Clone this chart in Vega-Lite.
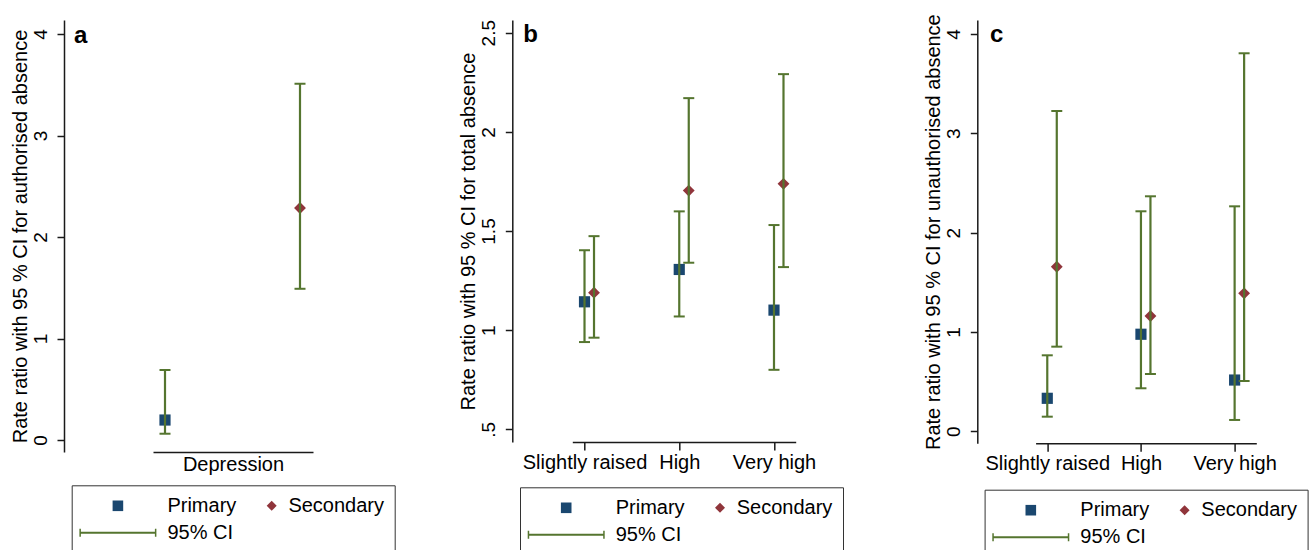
{
  "$schema": "https://vega.github.io/schema/vega-lite/v6.json",
  "background": "white",
  "padding": {"left": 10, "top": 13, "right": 0, "bottom": 0},
  "config": {
    "font": "Liberation Sans",
    "view": {"stroke": null},
    "axis": {
      "domainColor": "#1a1a1a", "tickColor": "#1a1a1a", "domainWidth": 1.5, "tickWidth": 1.5,
      "labelColor": "black", "titleColor": "black", "labelFont": "Liberation Sans", "titleFont": "Liberation Sans",
      "labelFontSize": 20, "titleFontSize": 20, "titleFontWeight": "normal", "grid": false
    },
    "legend": {
      "labelFont": "Liberation Sans", "labelFontSize": 20, "labelColor": "black",
      "titleFontSize": 1, "titleOrient": "left", "titlePadding": 33.5, "titleColor": "white"
    },
    "title": {
      "font": "Liberation Sans", "fontSize": 24, "fontWeight": "bold", "color": "black",
      "anchor": "start", "frame": "group", "offset": 0, "baseline": "alphabetic"
    }
  },
  "datasets": {
    "a": [
      {"cat": "Depression", "group": "Primary", "est": 0.197, "lo": 0.062, "hi": 0.69},
      {"cat": "Depression", "group": "Secondary", "est": 2.286, "lo": 1.49, "hi": 3.51}
    ],
    "b": [
      {"cat": "Slightly raised", "group": "Primary", "est": 1.143, "lo": 0.94, "hi": 1.403},
      {"cat": "Slightly raised", "group": "Secondary", "est": 1.189, "lo": 0.962, "hi": 1.474},
      {"cat": "High", "group": "Primary", "est": 1.306, "lo": 1.069, "hi": 1.599},
      {"cat": "High", "group": "Secondary", "est": 1.704, "lo": 1.34, "hi": 2.17},
      {"cat": "Very high", "group": "Primary", "est": 1.101, "lo": 0.8, "hi": 1.53},
      {"cat": "Very high", "group": "Secondary", "est": 1.738, "lo": 1.318, "hi": 2.291}
    ],
    "c": [
      {"cat": "Slightly raised", "group": "Primary", "est": 0.332, "lo": 0.147, "hi": 0.765},
      {"cat": "Slightly raised", "group": "Secondary", "est": 1.657, "lo": 0.852, "hi": 3.225},
      {"cat": "High", "group": "Primary", "est": 0.977, "lo": 0.433, "hi": 2.215},
      {"cat": "High", "group": "Secondary", "est": 1.161, "lo": 0.577, "hi": 2.366},
      {"cat": "Very high", "group": "Primary", "est": 0.516, "lo": 0.114, "hi": 2.265},
      {"cat": "Very high", "group": "Secondary", "est": 1.389, "lo": 0.506, "hi": 3.806}
    ]
  },
  "bounds": "flush",
  "spacing": 259.3,
  "resolve": {"scale": {"color": "independent", "shape": "independent"}, "legend": {"color": "independent", "shape": "independent"}},
  "hconcat": [
    {
      "width": 160, "height": 432,
      "title": {"text": "a", "dx": -79, "dy": 32},
      "data": {"name": "a"},
      "layer": [
        {
          "transform": [{"filter": "datum.group === 'Primary'"}],
          "mark": {"type": "point", "shape": "square", "filled": true, "color": "#1a476f", "size": 125, "opacity": 1},
          "encoding": {
            "x": {"field": "group", "type": "nominal", "scale": {"type": "point", "domain": ["Primary", "Secondary"], "padding": 0.0926, "align": 0.48}, "axis": {"title": "Depression", "labels": false, "ticks": false, "tickSize": 0, "titlePadding": 2}},
            "y": {"field": "est", "type": "quantitative", "scale": {"domain": [-0.118, 4.138], "nice": false, "zero": false}, "axis": {"title": "Rate ratio with 95 % CI for authorised absence", "values": [0, 1, 2, 3, 4], "offset": 89, "tickSize": 7, "labelAngle": -90, "labelAlign": "center", "labelBaseline": "alphabetic", "labelPadding": 11, "labelFontSize": 19, "labelOverlap": false, "labelFlush": false, "titlePadding": 1}}
          }
        },
        {
          "transform": [{"filter": "datum.group === 'Secondary'"}],
          "mark": {"type": "point", "shape": "diamond", "filled": true, "color": "#90353b", "size": 140, "opacity": 1},
          "encoding": {
            "x": {"field": "group", "type": "nominal", "scale": {"type": "point", "domain": ["Primary", "Secondary"], "padding": 0.0926, "align": 0.48}, "axis": {"title": "Depression", "labels": false, "ticks": false, "tickSize": 0, "titlePadding": 2}},
            "y": {"field": "est", "type": "quantitative", "scale": {"domain": [-0.118, 4.138], "nice": false, "zero": false}, "axis": {"title": "Rate ratio with 95 % CI for authorised absence", "values": [0, 1, 2, 3, 4], "offset": 89, "tickSize": 7, "labelAngle": -90, "labelAlign": "center", "labelBaseline": "alphabetic", "labelPadding": 11, "labelFontSize": 19, "labelOverlap": false, "labelFlush": false, "titlePadding": 1}}
          }
        },
        {
          "mark": {"type": "point", "filled": true, "opacity": 0},
          "encoding": {
            "x": {"field": "group", "type": "nominal", "scale": {"type": "point", "domain": ["Primary", "Secondary"], "padding": 0.0926, "align": 0.48}, "axis": {"title": "Depression", "labels": false, "ticks": false, "tickSize": 0, "titlePadding": 2}},
            "y": {"field": "est", "type": "quantitative", "scale": {"domain": [-0.118, 4.138], "nice": false, "zero": false}, "axis": {"title": "Rate ratio with 95 % CI for authorised absence", "values": [0, 1, 2, 3, 4], "offset": 89, "tickSize": 7, "labelAngle": -90, "labelAlign": "center", "labelBaseline": "alphabetic", "labelPadding": 11, "labelFontSize": 19, "labelOverlap": false, "labelFlush": false, "titlePadding": 1}},
            "color": {"field": "group", "type": "nominal", "scale": {"domain": ["Primary", "Secondary", "95% CI"], "range": ["#1a476f", "#90353b", "#55752f"]},
              "legend": {"title": " ", "orient": "none", "legendX": -81.3, "legendY": 465.3, "direction": "horizontal", "columns": 2, "symbolSize": 400, "symbolStrokeWidth": 0, "symbolOpacity": 1, "labelOffset": 31.7, "columnPadding": 0, "rowPadding": 7, "padding": 10.5, "strokeColor": "#333333"}},
            "shape": {"field": "group", "type": "nominal", "scale": {"domain": ["Primary", "Secondary", "95% CI"], "range": ["M-1.31,-0.53H-0.25V0.53H-1.31Z", "M2,0L2.5,-0.5L3,0L2.5,0.5Z", "M-4.63,-0.1H3.07V0.1H-4.63ZM-4.63,-0.4H-4.48V0.4H-4.63ZM2.92,-0.4H3.07V0.4H2.92Z"]},
              "legend": {"title": " ", "orient": "none", "legendX": -81.3, "legendY": 465.3, "direction": "horizontal", "columns": 2, "symbolSize": 400, "symbolStrokeWidth": 0, "symbolOpacity": 1, "labelOffset": 31.7, "columnPadding": 0, "rowPadding": 7, "padding": 10.5, "strokeColor": "#333333"}}
          }
        },
        {
          "mark": {"type": "rule", "color": "#55752f", "strokeWidth": 2.2},
          "encoding": {
            "x": {"field": "group", "type": "nominal", "scale": {"type": "point", "domain": ["Primary", "Secondary"], "padding": 0.0926, "align": 0.48}, "axis": {"title": "Depression", "labels": false, "ticks": false, "tickSize": 0, "titlePadding": 2}},
            "y": {"field": "lo", "type": "quantitative", "scale": {"domain": [-0.118, 4.138], "nice": false, "zero": false}, "axis": {"title": "Rate ratio with 95 % CI for authorised absence", "values": [0, 1, 2, 3, 4], "offset": 89, "tickSize": 7, "labelAngle": -90, "labelAlign": "center", "labelBaseline": "alphabetic", "labelPadding": 11, "labelFontSize": 19, "labelOverlap": false, "labelFlush": false, "titlePadding": 1}},
            "y2": {"field": "hi"}
          }
        },
        {
          "mark": {"type": "tick", "orient": "horizontal", "color": "#55752f", "size": 11, "thickness": 2, "opacity": 1},
          "encoding": {
            "x": {"field": "group", "type": "nominal", "scale": {"type": "point", "domain": ["Primary", "Secondary"], "padding": 0.0926, "align": 0.48}, "axis": {"title": "Depression", "labels": false, "ticks": false, "tickSize": 0, "titlePadding": 2}},
            "y": {"field": "lo", "type": "quantitative", "scale": {"domain": [-0.118, 4.138], "nice": false, "zero": false}, "axis": {"title": "Rate ratio with 95 % CI for authorised absence", "values": [0, 1, 2, 3, 4], "offset": 89, "tickSize": 7, "labelAngle": -90, "labelAlign": "center", "labelBaseline": "alphabetic", "labelPadding": 11, "labelFontSize": 19, "labelOverlap": false, "labelFlush": false, "titlePadding": 1}}
          }
        },
        {
          "mark": {"type": "tick", "orient": "horizontal", "color": "#55752f", "size": 11, "thickness": 2, "opacity": 1},
          "encoding": {
            "x": {"field": "group", "type": "nominal", "scale": {"type": "point", "domain": ["Primary", "Secondary"], "padding": 0.0926, "align": 0.48}, "axis": {"title": "Depression", "labels": false, "ticks": false, "tickSize": 0, "titlePadding": 2}},
            "y": {"field": "hi", "type": "quantitative", "scale": {"domain": [-0.118, 4.138], "nice": false, "zero": false}, "axis": {"title": "Rate ratio with 95 % CI for authorised absence", "values": [0, 1, 2, 3, 4], "offset": 89, "tickSize": 7, "labelAngle": -90, "labelAlign": "center", "labelBaseline": "alphabetic", "labelPadding": 11, "labelFontSize": 19, "labelOverlap": false, "labelFlush": false, "titlePadding": 1}}
          }
        }
      ]
    },
    {
      "bounds": "flush",
      "spacing": 239.3,
      "resolve": {"scale": {"color": "independent", "shape": "independent"}, "legend": {"color": "independent", "shape": "independent"}},
      "hconcat": [
        {
          "width": 223.4, "height": 422,
          "title": {"text": "b", "dx": -49, "dy": 32},
          "data": {"name": "b"},
          "layer": [
            {
              "transform": [{"filter": "datum.group === 'Primary'"}],
              "mark": {"type": "point", "shape": "square", "filled": true, "color": "#1a476f", "size": 125, "opacity": 1},
              "encoding": {
                "x": {"field": "cat", "type": "nominal", "scale": {"type": "point", "domain": ["Slightly raised", "High", "Very high"], "padding": 0.179, "align": 0.36}, "axis": {"title": null, "labelAngle": 0, "tickSize": 8, "labelPadding": 2, "labelOverlap": false, "labelBound": false, "labelFlush": false}},
                "xOffset": {"field": "group", "type": "nominal", "scale": {"type": "point", "domain": ["Primary", "Secondary"], "range": [0, 9.5], "padding": 0}},
                "y": {"field": "est", "type": "quantitative", "scale": {"domain": [0.436, 2.564], "nice": false, "zero": false}, "axis": {"title": "Rate ratio with 95 % CI for total absence", "values": [0.5, 1, 1.5, 2, 2.5], "labelExpr": "datum.value === 0.5 ? '.5' : toString(datum.value)", "offset": 60, "tickSize": 7, "labelAngle": -90, "labelAlign": "center", "labelBaseline": "alphabetic", "labelPadding": 11, "labelFontSize": 19, "labelOverlap": false, "labelFlush": false, "titlePadding": 1}}
              }
            },
            {
              "transform": [{"filter": "datum.group === 'Secondary'"}],
              "mark": {"type": "point", "shape": "diamond", "filled": true, "color": "#90353b", "size": 140, "opacity": 1},
              "encoding": {
                "x": {"field": "cat", "type": "nominal", "scale": {"type": "point", "domain": ["Slightly raised", "High", "Very high"], "padding": 0.179, "align": 0.36}, "axis": {"title": null, "labelAngle": 0, "tickSize": 8, "labelPadding": 2, "labelOverlap": false, "labelBound": false, "labelFlush": false}},
                "xOffset": {"field": "group", "type": "nominal", "scale": {"type": "point", "domain": ["Primary", "Secondary"], "range": [0, 9.5], "padding": 0}},
                "y": {"field": "est", "type": "quantitative", "scale": {"domain": [0.436, 2.564], "nice": false, "zero": false}, "axis": {"title": "Rate ratio with 95 % CI for total absence", "values": [0.5, 1, 1.5, 2, 2.5], "labelExpr": "datum.value === 0.5 ? '.5' : toString(datum.value)", "offset": 60, "tickSize": 7, "labelAngle": -90, "labelAlign": "center", "labelBaseline": "alphabetic", "labelPadding": 11, "labelFontSize": 19, "labelOverlap": false, "labelFlush": false, "titlePadding": 1}}
              }
            },
            {
              "mark": {"type": "point", "filled": true, "opacity": 0},
              "encoding": {
                "x": {"field": "cat", "type": "nominal", "scale": {"type": "point", "domain": ["Slightly raised", "High", "Very high"], "padding": 0.179, "align": 0.36}, "axis": {"title": null, "labelAngle": 0, "tickSize": 8, "labelPadding": 2, "labelOverlap": false, "labelBound": false, "labelFlush": false}},
                "xOffset": {"field": "group", "type": "nominal", "scale": {"type": "point", "domain": ["Primary", "Secondary"], "range": [0, 9.5], "padding": 0}},
                "y": {"field": "est", "type": "quantitative", "scale": {"domain": [0.436, 2.564], "nice": false, "zero": false}, "axis": {"title": "Rate ratio with 95 % CI for total absence", "values": [0.5, 1, 1.5, 2, 2.5], "labelExpr": "datum.value === 0.5 ? '.5' : toString(datum.value)", "offset": 60, "tickSize": 7, "labelAngle": -90, "labelAlign": "center", "labelBaseline": "alphabetic", "labelPadding": 11, "labelFontSize": 19, "labelOverlap": false, "labelFlush": false, "titlePadding": 1}},
                "color": {"field": "group", "type": "nominal", "scale": {"domain": ["Primary", "Secondary", "95% CI"], "range": ["#1a476f", "#90353b", "#55752f"]},
                  "legend": {"title": " ", "orient": "none", "legendX": -52.3, "legendY": 467.3, "direction": "horizontal", "columns": 2, "symbolSize": 400, "symbolStrokeWidth": 0, "symbolOpacity": 1, "labelOffset": 31.7, "columnPadding": 0, "rowPadding": 7, "padding": 10.5, "strokeColor": "#333333"}},
                "shape": {"field": "group", "type": "nominal", "scale": {"domain": ["Primary", "Secondary", "95% CI"], "range": ["M-1.31,-0.53H-0.25V0.53H-1.31Z", "M2,0L2.5,-0.5L3,0L2.5,0.5Z", "M-4.63,-0.1H3.07V0.1H-4.63ZM-4.63,-0.4H-4.48V0.4H-4.63ZM2.92,-0.4H3.07V0.4H2.92Z"]},
                  "legend": {"title": " ", "orient": "none", "legendX": -52.3, "legendY": 467.3, "direction": "horizontal", "columns": 2, "symbolSize": 400, "symbolStrokeWidth": 0, "symbolOpacity": 1, "labelOffset": 31.7, "columnPadding": 0, "rowPadding": 7, "padding": 10.5, "strokeColor": "#333333"}}
              }
            },
            {
              "mark": {"type": "rule", "color": "#55752f", "strokeWidth": 2.2},
              "encoding": {
                "x": {"field": "cat", "type": "nominal", "scale": {"type": "point", "domain": ["Slightly raised", "High", "Very high"], "padding": 0.179, "align": 0.36}, "axis": {"title": null, "labelAngle": 0, "tickSize": 8, "labelPadding": 2, "labelOverlap": false, "labelBound": false, "labelFlush": false}},
                "xOffset": {"field": "group", "type": "nominal", "scale": {"type": "point", "domain": ["Primary", "Secondary"], "range": [0, 9.5], "padding": 0}},
                "y": {"field": "lo", "type": "quantitative", "scale": {"domain": [0.436, 2.564], "nice": false, "zero": false}, "axis": {"title": "Rate ratio with 95 % CI for total absence", "values": [0.5, 1, 1.5, 2, 2.5], "labelExpr": "datum.value === 0.5 ? '.5' : toString(datum.value)", "offset": 60, "tickSize": 7, "labelAngle": -90, "labelAlign": "center", "labelBaseline": "alphabetic", "labelPadding": 11, "labelFontSize": 19, "labelOverlap": false, "labelFlush": false, "titlePadding": 1}},
                "y2": {"field": "hi"}
              }
            },
            {
              "mark": {"type": "tick", "orient": "horizontal", "color": "#55752f", "size": 11, "thickness": 2, "opacity": 1},
              "encoding": {
                "x": {"field": "cat", "type": "nominal", "scale": {"type": "point", "domain": ["Slightly raised", "High", "Very high"], "padding": 0.179, "align": 0.36}, "axis": {"title": null, "labelAngle": 0, "tickSize": 8, "labelPadding": 2, "labelOverlap": false, "labelBound": false, "labelFlush": false}},
                "xOffset": {"field": "group", "type": "nominal", "scale": {"type": "point", "domain": ["Primary", "Secondary"], "range": [0, 9.5], "padding": 0}},
                "y": {"field": "lo", "type": "quantitative", "scale": {"domain": [0.436, 2.564], "nice": false, "zero": false}, "axis": {"title": "Rate ratio with 95 % CI for total absence", "values": [0.5, 1, 1.5, 2, 2.5], "labelExpr": "datum.value === 0.5 ? '.5' : toString(datum.value)", "offset": 60, "tickSize": 7, "labelAngle": -90, "labelAlign": "center", "labelBaseline": "alphabetic", "labelPadding": 11, "labelFontSize": 19, "labelOverlap": false, "labelFlush": false, "titlePadding": 1}}
              }
            },
            {
              "mark": {"type": "tick", "orient": "horizontal", "color": "#55752f", "size": 11, "thickness": 2, "opacity": 1},
              "encoding": {
                "x": {"field": "cat", "type": "nominal", "scale": {"type": "point", "domain": ["Slightly raised", "High", "Very high"], "padding": 0.179, "align": 0.36}, "axis": {"title": null, "labelAngle": 0, "tickSize": 8, "labelPadding": 2, "labelOverlap": false, "labelBound": false, "labelFlush": false}},
                "xOffset": {"field": "group", "type": "nominal", "scale": {"type": "point", "domain": ["Primary", "Secondary"], "range": [0, 9.5], "padding": 0}},
                "y": {"field": "hi", "type": "quantitative", "scale": {"domain": [0.436, 2.564], "nice": false, "zero": false}, "axis": {"title": "Rate ratio with 95 % CI for total absence", "values": [0.5, 1, 1.5, 2, 2.5], "labelExpr": "datum.value === 0.5 ? '.5' : toString(datum.value)", "offset": 60, "tickSize": 7, "labelAngle": -90, "labelAlign": "center", "labelBaseline": "alphabetic", "labelPadding": 11, "labelFontSize": 19, "labelOverlap": false, "labelFlush": false, "titlePadding": 1}}
              }
            }
          ]
        },
        {
          "width": 220.7, "height": 423.3,
          "title": {"text": "c", "dx": -45.5, "dy": 37},
          "data": {"name": "c"},
          "layer": [
            {
              "transform": [{"filter": "datum.group === 'Primary'"}],
              "mark": {"type": "point", "shape": "square", "filled": true, "color": "#1a476f", "size": 125, "opacity": 1},
              "encoding": {
                "x": {"field": "cat", "type": "nominal", "scale": {"type": "point", "domain": ["Slightly raised", "High", "Very high"], "padding": 0.178, "align": 0.35}, "axis": {"title": null, "labelAngle": 0, "tickSize": 8, "labelPadding": 2, "labelOverlap": false, "labelBound": false, "labelFlush": false}},
                "xOffset": {"field": "group", "type": "nominal", "scale": {"type": "point", "domain": ["Primary", "Secondary"], "range": [0, 10], "padding": 0}},
                "y": {"field": "est", "type": "quantitative", "scale": {"domain": [-0.121, 4.141], "nice": false, "zero": false}, "axis": {"title": "Rate ratio with 95 % CI for unauthorised absence", "values": [0, 1, 2, 3, 4], "offset": 58.3, "tickSize": 7, "labelAngle": -90, "labelAlign": "center", "labelBaseline": "alphabetic", "labelPadding": 11, "labelFontSize": 19, "labelOverlap": false, "labelFlush": false, "titlePadding": 1}}
              }
            },
            {
              "transform": [{"filter": "datum.group === 'Secondary'"}],
              "mark": {"type": "point", "shape": "diamond", "filled": true, "color": "#90353b", "size": 140, "opacity": 1},
              "encoding": {
                "x": {"field": "cat", "type": "nominal", "scale": {"type": "point", "domain": ["Slightly raised", "High", "Very high"], "padding": 0.178, "align": 0.35}, "axis": {"title": null, "labelAngle": 0, "tickSize": 8, "labelPadding": 2, "labelOverlap": false, "labelBound": false, "labelFlush": false}},
                "xOffset": {"field": "group", "type": "nominal", "scale": {"type": "point", "domain": ["Primary", "Secondary"], "range": [0, 10], "padding": 0}},
                "y": {"field": "est", "type": "quantitative", "scale": {"domain": [-0.121, 4.141], "nice": false, "zero": false}, "axis": {"title": "Rate ratio with 95 % CI for unauthorised absence", "values": [0, 1, 2, 3, 4], "offset": 58.3, "tickSize": 7, "labelAngle": -90, "labelAlign": "center", "labelBaseline": "alphabetic", "labelPadding": 11, "labelFontSize": 19, "labelOverlap": false, "labelFlush": false, "titlePadding": 1}}
              }
            },
            {
              "mark": {"type": "point", "filled": true, "opacity": 0},
              "encoding": {
                "x": {"field": "cat", "type": "nominal", "scale": {"type": "point", "domain": ["Slightly raised", "High", "Very high"], "padding": 0.178, "align": 0.35}, "axis": {"title": null, "labelAngle": 0, "tickSize": 8, "labelPadding": 2, "labelOverlap": false, "labelBound": false, "labelFlush": false}},
                "xOffset": {"field": "group", "type": "nominal", "scale": {"type": "point", "domain": ["Primary", "Secondary"], "range": [0, 10], "padding": 0}},
                "y": {"field": "est", "type": "quantitative", "scale": {"domain": [-0.121, 4.141], "nice": false, "zero": false}, "axis": {"title": "Rate ratio with 95 % CI for unauthorised absence", "values": [0, 1, 2, 3, 4], "offset": 58.3, "tickSize": 7, "labelAngle": -90, "labelAlign": "center", "labelBaseline": "alphabetic", "labelPadding": 11, "labelFontSize": 19, "labelOverlap": false, "labelFlush": false, "titlePadding": 1}},
                "color": {"field": "group", "type": "nominal", "scale": {"domain": ["Primary", "Secondary", "95% CI"], "range": ["#1a476f", "#90353b", "#55752f"]},
                  "legend": {"title": " ", "orient": "none", "legendX": -51, "legendY": 469.7, "direction": "horizontal", "columns": 2, "symbolSize": 400, "symbolStrokeWidth": 0, "symbolOpacity": 1, "labelOffset": 31.7, "columnPadding": 0, "rowPadding": 7, "padding": 10.5, "strokeColor": "#333333"}},
                "shape": {"field": "group", "type": "nominal", "scale": {"domain": ["Primary", "Secondary", "95% CI"], "range": ["M-1.31,-0.53H-0.25V0.53H-1.31Z", "M2,0L2.5,-0.5L3,0L2.5,0.5Z", "M-4.63,-0.1H3.07V0.1H-4.63ZM-4.63,-0.4H-4.48V0.4H-4.63ZM2.92,-0.4H3.07V0.4H2.92Z"]},
                  "legend": {"title": " ", "orient": "none", "legendX": -51, "legendY": 469.7, "direction": "horizontal", "columns": 2, "symbolSize": 400, "symbolStrokeWidth": 0, "symbolOpacity": 1, "labelOffset": 31.7, "columnPadding": 0, "rowPadding": 7, "padding": 10.5, "strokeColor": "#333333"}}
              }
            },
            {
              "mark": {"type": "rule", "color": "#55752f", "strokeWidth": 2.2},
              "encoding": {
                "x": {"field": "cat", "type": "nominal", "scale": {"type": "point", "domain": ["Slightly raised", "High", "Very high"], "padding": 0.178, "align": 0.35}, "axis": {"title": null, "labelAngle": 0, "tickSize": 8, "labelPadding": 2, "labelOverlap": false, "labelBound": false, "labelFlush": false}},
                "xOffset": {"field": "group", "type": "nominal", "scale": {"type": "point", "domain": ["Primary", "Secondary"], "range": [0, 10], "padding": 0}},
                "y": {"field": "lo", "type": "quantitative", "scale": {"domain": [-0.121, 4.141], "nice": false, "zero": false}, "axis": {"title": "Rate ratio with 95 % CI for unauthorised absence", "values": [0, 1, 2, 3, 4], "offset": 58.3, "tickSize": 7, "labelAngle": -90, "labelAlign": "center", "labelBaseline": "alphabetic", "labelPadding": 11, "labelFontSize": 19, "labelOverlap": false, "labelFlush": false, "titlePadding": 1}},
                "y2": {"field": "hi"}
              }
            },
            {
              "mark": {"type": "tick", "orient": "horizontal", "color": "#55752f", "size": 11, "thickness": 2, "opacity": 1},
              "encoding": {
                "x": {"field": "cat", "type": "nominal", "scale": {"type": "point", "domain": ["Slightly raised", "High", "Very high"], "padding": 0.178, "align": 0.35}, "axis": {"title": null, "labelAngle": 0, "tickSize": 8, "labelPadding": 2, "labelOverlap": false, "labelBound": false, "labelFlush": false}},
                "xOffset": {"field": "group", "type": "nominal", "scale": {"type": "point", "domain": ["Primary", "Secondary"], "range": [0, 10], "padding": 0}},
                "y": {"field": "lo", "type": "quantitative", "scale": {"domain": [-0.121, 4.141], "nice": false, "zero": false}, "axis": {"title": "Rate ratio with 95 % CI for unauthorised absence", "values": [0, 1, 2, 3, 4], "offset": 58.3, "tickSize": 7, "labelAngle": -90, "labelAlign": "center", "labelBaseline": "alphabetic", "labelPadding": 11, "labelFontSize": 19, "labelOverlap": false, "labelFlush": false, "titlePadding": 1}}
              }
            },
            {
              "mark": {"type": "tick", "orient": "horizontal", "color": "#55752f", "size": 11, "thickness": 2, "opacity": 1},
              "encoding": {
                "x": {"field": "cat", "type": "nominal", "scale": {"type": "point", "domain": ["Slightly raised", "High", "Very high"], "padding": 0.178, "align": 0.35}, "axis": {"title": null, "labelAngle": 0, "tickSize": 8, "labelPadding": 2, "labelOverlap": false, "labelBound": false, "labelFlush": false}},
                "xOffset": {"field": "group", "type": "nominal", "scale": {"type": "point", "domain": ["Primary", "Secondary"], "range": [0, 10], "padding": 0}},
                "y": {"field": "hi", "type": "quantitative", "scale": {"domain": [-0.121, 4.141], "nice": false, "zero": false}, "axis": {"title": "Rate ratio with 95 % CI for unauthorised absence", "values": [0, 1, 2, 3, 4], "offset": 58.3, "tickSize": 7, "labelAngle": -90, "labelAlign": "center", "labelBaseline": "alphabetic", "labelPadding": 11, "labelFontSize": 19, "labelOverlap": false, "labelFlush": false, "titlePadding": 1}}
              }
            }
          ]
        }
      ]
    }
  ]
}
